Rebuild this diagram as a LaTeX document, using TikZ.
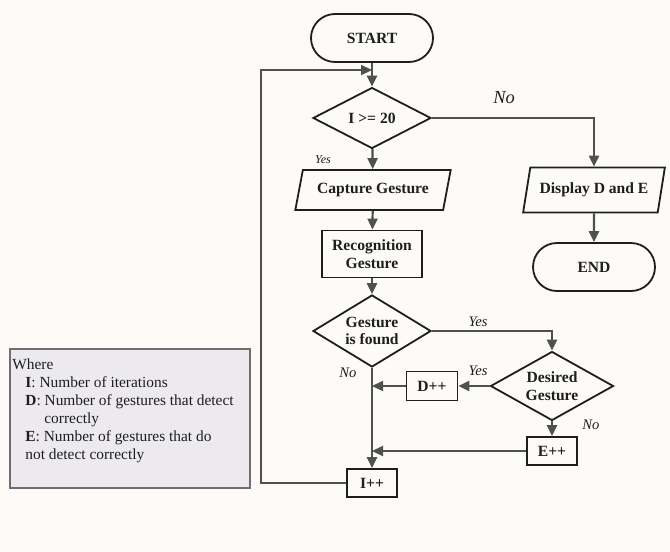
\documentclass[tikz,border=0pt]{standalone}
\usepackage{fontspec}
\setmainfont{Liberation Serif}
\usetikzlibrary{shapes.geometric, arrows.meta}
\definecolor{lineGray}{RGB}{80, 80, 80}
\definecolor{inkDark}{RGB}{30, 30, 30}
\definecolor{paperBg}{RGB}{252, 251, 248}
\definecolor{legendFill}{RGB}{236, 234, 238}
\definecolor{legendLine}{RGB}{110, 110, 110}

\begin{document}
\begin{tikzpicture}[x=0.5pt, y=-0.5pt,
    every node/.style={text=inkDark},
    arr/.style={draw=lineGray, line width=1.1pt, -{Triangle[length=5.5pt, width=5pt]}},
    boxfont/.style={font=\fontsize{7.8}{8.8}\selectfont\bfseries},
    terminal/.style={boxfont, draw=inkDark, line width=0.9pt, rounded corners=12pt, minimum width=61pt, minimum height=24pt},
    process/.style={boxfont, draw=inkDark, line width=0.9pt, align=center, inner sep=1pt},
    decision/.style={boxfont, draw=inkDark, line width=0.9pt, diamond, aspect=1.8, inner sep=0pt, align=center},
    io/.style={boxfont, draw=inkDark, line width=0.9pt, trapezium, trapezium left angle=76, trapezium right angle=104, trapezium stretches=true},
    lbl/.style={font=\fontsize{7.3}{8}\selectfont\itshape}]
      % page
      \fill[paperBg] (0,0) rectangle (670,552);
      \useasboundingbox (0,0) rectangle (670,552);

      % main column
      \node[terminal] (start) at (372,38) {START};
      \node[decision, minimum width=59pt, minimum height=30.5pt] (cond) at (372,118) {I >= 20};
      \node[io, minimum width=78pt, minimum height=20pt] (capt) at (373,190) {Capture Gesture};
      \node[process, minimum width=50pt, minimum height=23.5pt] (recog) at (372,254) {Recognition\\Gesture};
      \node[decision, minimum width=59pt, minimum height=36pt] (found) at (372,331) {Gesture\\is found};
      \node[process, minimum width=25pt, minimum height=14pt] (inc) at (372,483) {I++};

      % right branch
      \node[io, minimum width=71pt, minimum height=22.5pt] (disp) at (594,190) {Display D and E};
      \node[terminal] (stop) at (594,267) {END};
      \node[decision, minimum width=61.5pt, minimum height=34.5pt] (want) at (552,386) {Desired\\Gesture};
      \node[process, minimum width=25.5pt, minimum height=14.5pt] (dpp) at (432,386) {D++};
      \node[process, minimum width=25pt, minimum height=14pt] (epp) at (552,451) {E++};

      % connectors
      \coordinate (join) at (372,70);
      \draw[arr] (start) -- (cond);
      \draw[arr] (cond) -- (capt);
      \draw[arr] (capt) -- (recog);
      \draw[arr] (recog) -- (found);
      \draw[arr] (found) -- (inc);
      \draw[arr] (cond.east) -| (disp.north);
      \draw[arr] (disp) -- (stop);
      \draw[arr] (found.east) -| (want.north);
      \draw[arr] (want.west) -- (dpp.east);
      \draw[arr] (want) -- (epp);
      \draw[arr] (dpp.west) -- (dpp.west -| found.south);
      \draw[arr] (epp.west) -- (epp.west -| found.south);
      \draw[arr] (inc.west) -- ++(-85,0) |- (join);

      % branch labels
      \node[lbl, font=\fontsize{9.2}{10}\selectfont\itshape] (lNo1) at (504,98) {No};
      \node[lbl, font=\fontsize{6}{7}\selectfont\itshape] (lYes1) at (323,160) {Yes};
      \node[lbl] (lYes2) at (478,322) {Yes};
      \node[lbl] (lYes3) at (478,371) {Yes};
      \node[lbl] (lNo2) at (348,373) {No};
      \node[lbl] (lNo3) at (591,425) {No};

      % legend
      \draw[legendLine, fill=legendFill, line width=1.2pt] (10,349) rectangle (250,488);
      \node[anchor=north west, align=left, inner sep=0pt, font=\fontsize{7.7}{9}\selectfont] (legend) at (12,358)
        {Where\\
         \hspace{6.5pt}\textbf{I}: Number of iterations\\
         \hspace{6.5pt}\textbf{D}: Number of gestures that detect\\
         \hspace{16pt}correctly\\
         \hspace{6.5pt}\textbf{E}: Number of gestures that do\\
         \hspace{6.5pt}not detect correctly};
    \end{tikzpicture}
\end{document}
